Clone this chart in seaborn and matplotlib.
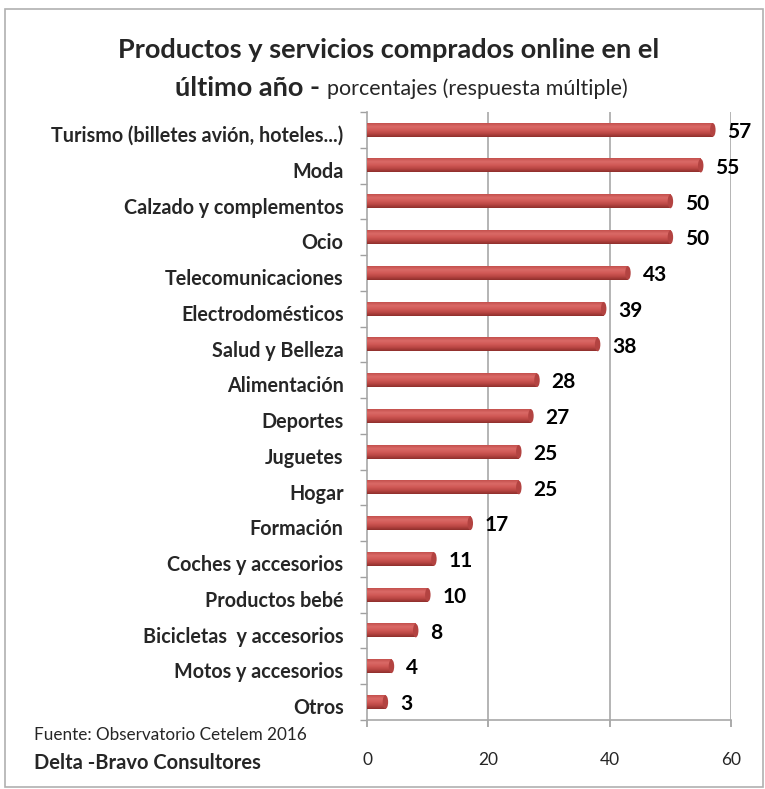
import matplotlib
matplotlib.use("Agg")
import matplotlib.pyplot as plt
import matplotlib.transforms as mtransforms
import seaborn as sns
import pandas as pd
import numpy as np
from matplotlib.patches import Rectangle, Ellipse
from matplotlib.colors import LinearSegmentedColormap

categories = ["Turismo (billetes avión, hoteles...)", "Moda", "Calzado y complementos", "Ocio",
              "Telecomunicaciones", "Electrodomésticos", "Salud y Belleza", "Alimentación",
              "Deportes", "Juguetes", "Hogar", "Formación", "Coches y accesorios",
              "Productos bebé", "Bicicletas  y accesorios", "Motos y accesorios", "Otros"]
values = [57, 55, 50, 50, 43, 39, 38, 28, 27, 25, 25, 17, 11, 10, 8, 4, 3]
xticks = [0, 20, 40, 60]

sns.set_theme(style="white")
plt.rcParams['font.family'] = ['Lato', 'DejaVu Sans']

df = pd.DataFrame({"cat": categories, "val": values})

fig = plt.figure(figsize=(7.65, 7.89), dpi=100)
ax = fig.add_axes([0.48, 0.0875, 0.4756, 0.7705])

sns.barplot(data=df, y="cat", x="val", orient="h", color="#CF5754", width=0.38,
            edgecolor="none", linewidth=0, saturation=1, ax=ax, zorder=3)

# cylinder shading (vertical gradient over each bar)
cmap = LinearSegmentedColormap.from_list("cyl", ["#C4504D", "#DA6A67", "#D15956", "#B94643", "#8E2F2C"])
grad = np.linspace(0, 1, 64).reshape(-1, 1)
for p in list(ax.patches):
    x0, y0 = p.get_x(), p.get_y()
    w, h = p.get_width(), p.get_height()
    ax.imshow(grad, cmap=cmap, extent=[x0, x0 + w, y0 + h, y0], aspect="auto",
              interpolation="bilinear", zorder=4)
    ax.add_patch(Ellipse((x0 + w, y0 + h / 2), 0.9, h, facecolor="#B34341",
                         edgecolor="none", zorder=5))

ax.set_xlim(0, 60)
ax.set_ylim(len(categories) - 0.5, -0.5)
ax.set_aspect("auto")
ax.set_xticks(xticks)
ax.set_xticklabels([str(t) for t in xticks], fontsize=12.5)
ax.set_xlabel("")
ax.set_ylabel("")
ax.tick_params(axis="x", length=5, color="#A0A0A0", pad=18, direction="out", bottom=True)
ax.set_yticks(range(len(categories)))
ax.set_yticklabels(categories, fontsize=14.2, fontweight="bold")
ax.tick_params(axis="y", length=0, pad=17)
ax.set_yticks(np.arange(-0.5, len(categories), 1), minor=True)
ax.tick_params(axis="y", which="minor", length=5, color="#A0A0A0", left=True)
offset = mtransforms.ScaledTranslation(0, -3 / 72, fig.dpi_scale_trans)
for lab in ax.get_yticklabels():
    lab.set_transform(lab.get_transform() + offset)

for t in xticks[1:]:
    ax.axvline(t, color="#A8A8A8", lw=1.2, zorder=1)
ax.spines["top"].set_visible(False)
ax.spines["right"].set_visible(False)
ax.spines["left"].set_color("#A8A8A8")
ax.spines["bottom"].set_color("#A8A8A8")
ax.spines["left"].set_linewidth(1.2)
ax.spines["bottom"].set_linewidth(1.2)

for i, v in enumerate(values):
    ax.text(v + 2.4, i + 0.06, str(v), va="center", ha="left", fontsize=15, fontweight="bold", color="black")

fig.text(0.508, 0.937, "Productos y servicios comprados online en el", ha="center", va="center",
         fontsize=19.5, fontweight="bold")
t1 = fig.text(0.229, 0.889, "último año - ", ha="left", va="center", fontsize=19.5, fontweight="bold")
fig.canvas.draw()
bb = t1.get_window_extent()
x_end = bb.x1 / fig.bbox.width
fig.text(x_end, 0.888, "porcentajes (respuesta múltiple)", ha="left", va="center", fontsize=15.5)

fig.text(0.044, 0.068, "Fuente: Observatorio Cetelem 2016", ha="left", va="center", fontsize=12.3)
fig.text(0.044, 0.033, "Delta -Bravo Consultores", ha="left", va="center", fontsize=14.5, fontweight="bold")

fig.patches.append(Rectangle((0.007, 0.003), 0.99, 0.985, transform=fig.transFigure,
                             fill=False, edgecolor="#B0B0B0", lw=1.2))

fig.savefig("out.png", dpi=100)
